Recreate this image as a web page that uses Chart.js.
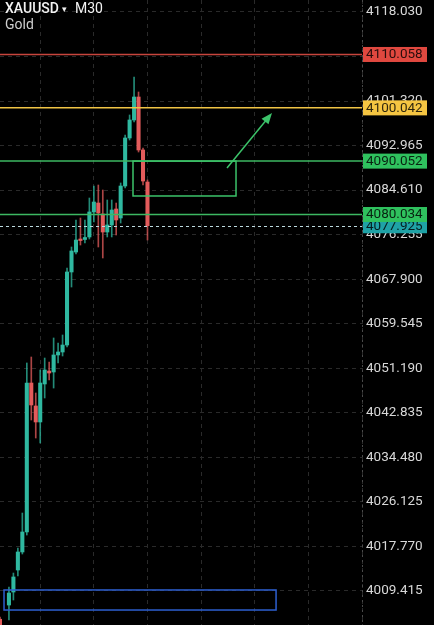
<!DOCTYPE html>
<html>
<head>
<meta charset="utf-8">
<script src="https://cdn.jsdelivr.net/npm/chart.js@4"></script>
<style>
  html, body { margin: 0; padding: 0; background: #000; overflow: hidden; }
  #wrap { position: relative; width: 434px; height: 625px; }
</style>
</head>
<body>
<div id="wrap"><canvas id="chart"></canvas></div>
<script>
// XAUUSD M30
const slots = Array.from({ length: 82 }, (_, i) => String(i + 1));

const opens  = [4004.1, null, 4006.77, 4009.21, 4013.34, 4016.72, 4020.47, 4048.42, 4044.11, 4041.11, 4048.24, 4050.67, 4050.49, 4053.68, 4054.24, 4055.55, 4069.25, 4073.00, 4075.44, 4075.35, 4075.82, 4080.51, 4082.19, 4080.13, 4076.75, 4078.07, 4081.07, 4079.38, 4085.38, 4094.39, 4097.77, 4102.08, 4092.14, 4086.13];
const closes = [4002.6, null, 4009.02, 4012.03, 4016.72, 4020.47, 4048.42, 4044.30, 4041.11, 4048.42, 4050.86, 4050.30, 4053.68, 4054.24, 4055.55, 4069.25, 4073.19, 4075.25, 4075.15, 4075.72, 4080.51, 4082.38, 4080.32, 4076.75, 4078.07, 4080.88, 4079.01, 4085.38, 4094.39, 4097.77, 4102.08, 4092.14, 4086.32, 4077.93];
const highs  = [4004.5, null, 4010.15, 4012.77, 4017.47, 4024.03, 4052.18, 4053.30, 4046.55, 4050.86, 4053.11, 4052.36, 4056.87, 4055.93, 4057.43, 4070.00, 4073.94, 4079.01, 4079.38, 4079.01, 4083.13, 4085.38, 4085.57, 4084.63, 4082.76, 4082.76, 4082.19, 4085.95, 4094.95, 4098.71, 4105.83, 4103.02, 4092.51, 4086.51];
const lows   = [4001.8, null, 4003.96, 4007.71, 4012.21, 4016.34, 4019.90, 4041.48, 4038.10, 4037.17, 4045.61, 4048.99, 4047.48, 4052.18, 4053.49, 4055.18, 4066.43, 4072.63, 4074.31, 4074.69, 4075.44, 4078.63, 4073.94, 4071.88, 4075.82, 4075.82, 4076.19, 4078.44, 4085.01, 4094.01, 4097.39, 4091.76, 4085.57, 4075.25];

const yTicks = [4009.415, 4017.770, 4026.125, 4034.480, 4042.835, 4051.190, 4059.545, 4067.900, 4076.255, 4084.610, 4092.965, 4101.320, 4109.675, 4118.030];
const xGrid = [9, 21, 33, 45, 57, 69, 81];

const levels = [4110.058, 4100.042, 4090.052, 4080.034];
const lastPrice = 4077.925;

const UP = '#2fb8a0', DOWN = '#e35b5b';
const levelLine = ['#c8453d', '#f0c445', '#3cb862', '#3cb862'];
const levelBox  = ['#e0483f', '#f5c542', '#2fc15e', '#2fc15e'];

const pad = a => slots.map((_, i) => (i < a.length ? a[i] : null));
const bodies = pad(opens.map((o, i) => (o == null ? null : [o, closes[i]])));
const wicks = pad(lows.map((l, i) => (l == null ? null : [l, highs[i]])));
const bodyColors = pad(opens.map((o, i) => (closes[i] >= o ? UP : DOWN)));
const wickColors = bodyColors.map(c => (c ? c + 'c0' : null));

const overlay = {
  id: 'overlay',
  afterDraw(chart) {
    const { ctx, chartArea: a, scales: { x, y } } = chart;
    ctx.save();

    // axis separator
    ctx.strokeStyle = '#4a4a4a';
    ctx.lineWidth = 1;
    ctx.setLineDash([2, 3]);
    ctx.beginPath();
    ctx.moveTo(a.right + 0.5, 0);
    ctx.lineTo(a.right + 0.5, a.bottom);
    ctx.stroke();

    // current price
    const cp = Math.round(y.getPixelForValue(lastPrice)) + 0.5;
    ctx.strokeStyle = '#bcd9df';
    ctx.setLineDash([3, 3]);
    ctx.beginPath();
    ctx.moveTo(0, cp);
    ctx.lineTo(a.right, cp);
    ctx.stroke();
    ctx.setLineDash([]);

    // horizontal levels
    levels.forEach((v, i) => {
      const py = y.getPixelForValue(v);
      ctx.strokeStyle = levelLine[i];
      ctx.lineWidth = 1.5;
      ctx.beginPath();
      ctx.moveTo(0, py);
      ctx.lineTo(a.right, py);
      ctx.stroke();
    });

    // green box
    ctx.strokeStyle = '#3cc36a';
    ctx.lineWidth = 1.5;
    const gx1 = x.getPixelForValue(29.76), gx2 = x.getPixelForValue(52.81);
    const gy1 = y.getPixelForValue(4090.052), gy2 = y.getPixelForValue(4083.51);
    ctx.strokeRect(gx1, gy1, gx2 - gx1, gy2 - gy1);

    // arrow
    const ax1 = x.getPixelForValue(50.79), ay1 = y.getPixelForValue(4088.76);
    const ax2 = x.getPixelForValue(60.86), ay2 = y.getPixelForValue(4099.08);
    const ang = Math.atan2(ay2 - ay1, ax2 - ax1);
    ctx.beginPath();
    ctx.moveTo(ax1, ay1);
    ctx.lineTo(ax2 - 8 * Math.cos(ang), ay2 - 8 * Math.sin(ang));
    ctx.stroke();
    ctx.fillStyle = '#3cc36a';
    ctx.beginPath();
    ctx.moveTo(ax2, ay2);
    ctx.lineTo(ax2 - 11 * Math.cos(ang) + 4.5 * Math.sin(ang), ay2 - 11 * Math.sin(ang) - 4.5 * Math.cos(ang));
    ctx.lineTo(ax2 - 11 * Math.cos(ang) - 4.5 * Math.sin(ang), ay2 - 11 * Math.sin(ang) + 4.5 * Math.cos(ang));
    ctx.closePath();
    ctx.fill();

    // blue box
    ctx.strokeStyle = '#2d5fd0';
    const bx1 = x.getPixelForValue(0.9), bx2 = x.getPixelForValue(61.77);
    const by1 = y.getPixelForValue(4009.59), by2 = y.getPixelForValue(4005.83);
    ctx.strokeRect(bx1, by1, bx2 - bx1, by2 - by1);

    // price tags
    ctx.font = '13.5px Roboto';
    ctx.textBaseline = 'middle';
    const tag = (v, fill) => {
      const py = y.getPixelForValue(v);
      ctx.fillStyle = fill;
      ctx.fillRect(a.right + 1, py - 7.5, 64, 15);
      ctx.fillStyle = 'rgba(0,0,0,0.82)';
      ctx.fillText(v.toFixed(3), a.right + 4, py + 0.5);
    };
    tag(lastPrice, '#1fa2a6');
    levels.forEach((v, i) => tag(v, levelBox[i]));

    // header
    ctx.textBaseline = 'alphabetic';
    ctx.fillStyle = '#f2f2f2';
    ctx.font = '500 14px Roboto';
    ctx.fillText('XAUUSD', 5, 13);
    ctx.font = '9px "DejaVu Sans"';
    ctx.fillText('▾', 62, 12);
    ctx.font = '14px Roboto';
    ctx.fillText('M30', 75, 13);
    ctx.fillStyle = '#cfcfcf';
    ctx.fillText('Gold', 5, 29);

    ctx.restore();
  }
};

new Chart(document.getElementById('chart'), {
  type: 'bar',
  data: {
    labels: slots,
    datasets: [
      { label: 'body', data: bodies, backgroundColor: bodyColors, barThickness: 3.4, minBarLength: 1, grouped: false, borderWidth: 0 },
      { label: 'wick', data: wicks, backgroundColor: wickColors, barThickness: 1, grouped: false, borderWidth: 0 },
    ],
  },
  options: {
    responsive: true,
    maintainAspectRatio: false,
    animation: false,
    layout: { padding: 0, autoPadding: false },
    plugins: { legend: { display: false }, tooltip: { enabled: false } },
    scales: {
      x: {
        offset: false,
        grid: { offset: false, color: '#2a2a2a', drawTicks: false },
        border: { display: false, dash: [4, 4] },
        ticks: { display: false },
        afterBuildTicks: s => { s.ticks = xGrid.map(v => ({ value: v })); },
        afterFit: s => { s.height = 0; s.paddingLeft = 0; s.paddingRight = 0; },
      },
      y: {
        position: 'right',
        min: 4003.02,
        max: 4120.28,
        grid: { color: '#2a2a2a', drawTicks: false },
        border: { display: false, dash: [4, 4] },
        ticks: {
          color: '#d8d8d8',
          padding: 4,
          font: { family: 'Roboto', size: 13.5 },
          callback: v => Number(v).toFixed(3),
        },
        afterBuildTicks: s => { s.ticks = yTicks.map(v => ({ value: v })); },
        afterFit: s => { s.width = 72; s.paddingTop = 0; s.paddingBottom = 0; },
      },
    },
  },
  plugins: [overlay],
});
</script>
</body>
</html>
